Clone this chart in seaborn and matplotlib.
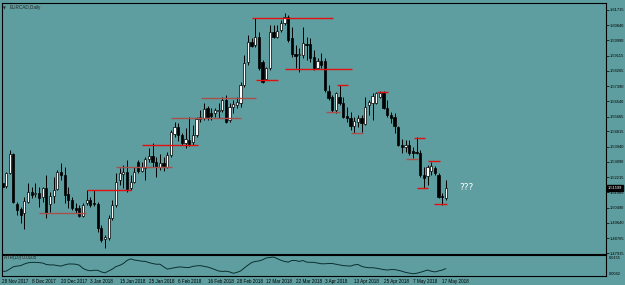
import numpy as np
import pandas as pd
import matplotlib
matplotlib.use('Agg')
from matplotlib import pyplot as plt
from matplotlib import transforms
import seaborn as sns

sns.set_style('white')
plt.rcParams['font.family'] = ['Liberation Sans', 'DejaVu Sans']

# EURCAD daily candles, 28 Nov 2017 .. 18 May 2018
opens = [1.5189, 1.5172, 1.5246, 1.5354, 1.5070, 1.5041, 1.5019, 1.5081, 1.5138, 1.5127,
         1.5132, 1.5110, 1.5161, 1.5070, 1.5115, 1.5155, 1.5252, 1.5234, 1.5127, 1.5093,
         1.5047, 1.5047, 1.5002, 1.5075, 1.5093, 1.5075, 1.5070, 1.4933, 1.4871, 1.4877,
         1.4990, 1.5064, 1.5206, 1.5240, 1.5252, 1.5161, 1.5195, 1.5308, 1.5257, 1.5274,
         1.5325, 1.5342, 1.5308, 1.5280, 1.5303, 1.5280, 1.5348, 1.5467, 1.5507, 1.5462,
         1.5416, 1.5433, 1.5422, 1.5462, 1.5553, 1.5558, 1.5615, 1.5587, 1.5587, 1.5598,
         1.5604, 1.5661, 1.5547, 1.5621, 1.5632, 1.5643, 1.5746, 1.5876, 1.5990, 1.5973,
         1.6018, 1.5876, 1.5780, 1.5842, 1.6047, 1.6018, 1.6058, 1.6098, 1.6132, 1.6013,
         1.5922, 1.5916, 1.5916, 1.5979, 1.5979, 1.5905, 1.5842, 1.5882, 1.5882, 1.5712,
         1.5678, 1.5604, 1.5678, 1.5643, 1.5570, 1.5558, 1.5513, 1.5536, 1.5558, 1.5524,
         1.5632, 1.5643, 1.5643, 1.5678, 1.5700, 1.5615, 1.5575, 1.5564, 1.5507, 1.5405,
         1.5394, 1.5405, 1.5371, 1.5365, 1.5359, 1.5234, 1.5229, 1.5257, 1.5274, 1.5234,
         1.5115, 1.5104]
highs = [1.5246, 1.5252, 1.5377, 1.5359, 1.5081, 1.5053, 1.5110, 1.5189, 1.5166, 1.5189,
         1.5166, 1.5166, 1.5234, 1.5138, 1.5223, 1.5263, 1.5303, 1.5280, 1.5166, 1.5110,
         1.5075, 1.5064, 1.5075, 1.5149, 1.5110, 1.5149, 1.5081, 1.4951, 1.4894, 1.5007,
         1.5093, 1.5246, 1.5274, 1.5291, 1.5320, 1.5234, 1.5280, 1.5320, 1.5308, 1.5337,
         1.5388, 1.5416, 1.5337, 1.5354, 1.5337, 1.5365, 1.5490, 1.5536, 1.5530, 1.5473,
         1.5501, 1.5564, 1.5519, 1.5564, 1.5604, 1.5643, 1.5626, 1.5615, 1.5615, 1.5643,
         1.5678, 1.5689, 1.5643, 1.5661, 1.5678, 1.5763, 1.5916, 1.6030, 1.6013, 1.6126,
         1.6047, 1.5888, 1.5848, 1.6087, 1.6087, 1.6087, 1.6115, 1.6155, 1.6143, 1.6075,
         1.5973, 1.5956, 1.6075, 1.6018, 1.6013, 1.5945, 1.5899, 1.5927, 1.5899, 1.5746,
         1.5689, 1.5706, 1.5746, 1.5678, 1.5621, 1.5592, 1.5564, 1.5575, 1.5575, 1.5678,
         1.5661, 1.5700, 1.5706, 1.5712, 1.5712, 1.5661, 1.5592, 1.5587, 1.5513, 1.5439,
         1.5433, 1.5433, 1.5394, 1.5450, 1.5377, 1.5280, 1.5291, 1.5308, 1.5286, 1.5246,
         1.5132, 1.5206]
lows = [1.5149, 1.5161, 1.5240, 1.5075, 1.5007, 1.4962, 1.4928, 1.5075, 1.5104, 1.5110,
        1.5053, 1.5081, 1.4990, 1.5024, 1.5075, 1.5149, 1.5206, 1.5075, 1.5047, 1.5036,
        1.5019, 1.4996, 1.4996, 1.5064, 1.5053, 1.5058, 1.4911, 1.4854, 1.4820, 1.4865,
        1.4979, 1.5053, 1.5178, 1.5161, 1.5138, 1.5149, 1.5189, 1.5246, 1.5252, 1.5206,
        1.5308, 1.5280, 1.5223, 1.5263, 1.5257, 1.5274, 1.5337, 1.5450, 1.5428, 1.5405,
        1.5388, 1.5399, 1.5405, 1.5450, 1.5536, 1.5547, 1.5547, 1.5547, 1.5564, 1.5558,
        1.5592, 1.5530, 1.5536, 1.5587, 1.5615, 1.5621, 1.5734, 1.5859, 1.5962, 1.5962,
        1.5831, 1.5757, 1.5774, 1.5831, 1.6013, 1.6013, 1.6047, 1.6087, 1.5990, 1.5905,
        1.5842, 1.5820, 1.5899, 1.5888, 1.5876, 1.5831, 1.5837, 1.5842, 1.5706, 1.5661,
        1.5592, 1.5587, 1.5632, 1.5558, 1.5536, 1.5490, 1.5473, 1.5507, 1.5479, 1.5519,
        1.5575, 1.5547, 1.5638, 1.5672, 1.5609, 1.5564, 1.5530, 1.5473, 1.5399, 1.5359,
        1.5365, 1.5348, 1.5331, 1.5354, 1.5223, 1.5161, 1.5178, 1.5234, 1.5234, 1.5104,
        1.5064, 1.5093]
closes = [1.5166, 1.5246, 1.5354, 1.5081, 1.5036, 1.5007, 1.5087, 1.5138, 1.5121, 1.5132,
          1.5104, 1.5161, 1.5019, 1.5115, 1.5149, 1.5252, 1.5234, 1.5121, 1.5093, 1.5047,
          1.5036, 1.5002, 1.5064, 1.5093, 1.5064, 1.5070, 1.4933, 1.4865, 1.4882, 1.4990,
          1.5064, 1.5195, 1.5246, 1.5252, 1.5155, 1.5195, 1.5252, 1.5257, 1.5280, 1.5325,
          1.5342, 1.5308, 1.5280, 1.5303, 1.5286, 1.5348, 1.5479, 1.5507, 1.5462, 1.5416,
          1.5439, 1.5405, 1.5462, 1.5553, 1.5564, 1.5609, 1.5564, 1.5570, 1.5604, 1.5604,
          1.5661, 1.5536, 1.5621, 1.5638, 1.5649, 1.5746, 1.5871, 1.5990, 1.5967, 1.6018,
          1.5842, 1.5763, 1.5842, 1.6047, 1.6018, 1.6052, 1.6098, 1.6132, 1.6001, 1.5922,
          1.5910, 1.5922, 1.5984, 1.5973, 1.5899, 1.5842, 1.5882, 1.5859, 1.5717, 1.5672,
          1.5604, 1.5700, 1.5643, 1.5564, 1.5558, 1.5513, 1.5541, 1.5558, 1.5530, 1.5621,
          1.5649, 1.5683, 1.5700, 1.5700, 1.5615, 1.5575, 1.5558, 1.5513, 1.5405, 1.5394,
          1.5405, 1.5359, 1.5359, 1.5359, 1.5234, 1.5217, 1.5280, 1.5286, 1.5246, 1.5110,
          1.5110, 1.5160]

# ATR(10) sub window
atr = [0.0093, 0.0094, 0.0103, 0.0113, 0.0116, 0.0118, 0.0125, 0.0130, 0.0132, 0.0132,
       0.0131, 0.0129, 0.0123, 0.0121, 0.0121, 0.0118, 0.0116, 0.0121, 0.0125, 0.0125,
       0.0124, 0.0120, 0.0106, 0.0099, 0.0096, 0.0098, 0.0098, 0.0091, 0.0087, 0.0095,
       0.0103, 0.0114, 0.0119, 0.0127, 0.0140, 0.0147, 0.0142, 0.0140, 0.0137, 0.0136,
       0.0131, 0.0127, 0.0124, 0.0124, 0.0113, 0.0103, 0.0106, 0.0109, 0.0112, 0.0112,
       0.0110, 0.0110, 0.0115, 0.0117, 0.0118, 0.0115, 0.0112, 0.0107, 0.0101, 0.0095,
       0.0093, 0.0094, 0.0091, 0.0085, 0.0089, 0.0095, 0.0108, 0.0120, 0.0131, 0.0136,
       0.0138, 0.0143, 0.0151, 0.0153, 0.0155, 0.0148, 0.0141, 0.0136, 0.0133, 0.0140,
       0.0140, 0.0136, 0.0140, 0.0133, 0.0132, 0.0132, 0.0129, 0.0126, 0.0126, 0.0127,
       0.0127, 0.0124, 0.0121, 0.0118, 0.0117, 0.0116, 0.0121, 0.0123, 0.0115, 0.0111,
       0.0109, 0.0109, 0.0107, 0.0104, 0.0101, 0.0099, 0.0101, 0.0101, 0.0098, 0.0094,
       0.0089, 0.0086, 0.0083, 0.0085, 0.0089, 0.0094, 0.0099, 0.0094, 0.0091, 0.0095,
       0.0099, 0.0105]

# horizontal support / resistance marks (bar index from, bar index to, price, kind)
lvl_from = [9.9, 23.0, 30.9, 38.0, 45.9, 54.1, 68.0, 69.1, 77.0, 88.2, 91.2, 95.0,
            102.1, 110.0, 112.2, 113.0, 116.0, 117.9]
lvl_to = [22.7, 35.0, 46.2, 53.3, 65.0, 69.1, 90.1, 75.1, 95.3, 92.0, 94.2, 98.3,
          105.1, 113.3, 115.2, 116.0, 119.3, 121.2]
lvl_price = [1.5019, 1.5149, 1.5280, 1.5405, 1.5558, 1.5672, 1.6126, 1.5774, 1.5837,
             1.5592, 1.5746, 1.5473, 1.5706, 1.5325, 1.5445, 1.5161, 1.5314, 1.5070]
lvl_kind = ['faded', 'strong', 'faded', 'strong', 'faded', 'faded', 'strong', 'strong',
            'strong', 'faded', 'strong', 'faded', 'strong', 'faded', 'strong', 'strong',
            'strong', 'strong']

price_ticks = [1.61715, 1.60840, 1.59990, 1.59115, 1.58265, 1.57390, 1.56540, 1.55665,
               1.54815, 1.53940, 1.53090, 1.52215, 1.51365, 1.50490, 1.49640, 1.48765,
               1.47915]
date_labels = ['28 Nov 2017', '8 Dec 2017', '20 Dec 2017', '3 Jan 2018', '15 Jan 2018',
               '25 Jan 2018', '6 Feb 2018', '16 Feb 2018', '28 Feb 2018', '12 Mar 2018',
               '22 Mar 2018', '3 Apr 2018', '13 Apr 2018', '25 Apr 2018', '7 May 2018',
               '17 May 2018']
last_price = 1.51599

df = pd.DataFrame(dict(open=opens, high=highs, low=lows, close=closes, atr=atr))
df['bar'] = np.arange(len(df))
up = df[df['close'] >= df['open']]
down = df[df['close'] < df['open']]

bg = '#5f9ea0'
fs = 3.3      # date / title text
fs_r = 2.9    # right-hand scale text
W, H = 625, 285

fig = plt.figure(figsize=(W / 100, H / 100), dpi=100)
fig.patch.set_facecolor(bg)
ax = fig.add_axes([2 / W, 1 - 254 / H, 604 / W, 251 / H])
ax2 = fig.add_axes([2 / W, 1 - 276 / H, 604 / W, 21 / H], sharex=ax)

for a in (ax, ax2):
    a.set_facecolor(bg)
    for s in a.spines.values():
        s.set_color('black')
        s.set_linewidth(0.8)

# candles
ax.vlines(df['bar'], df['low'], df['high'], color='black', lw=0.7, zorder=2)
ax.bar(up['bar'], up['close'] - up['open'], bottom=up['open'], width=0.62,
       color='white', edgecolor='black', linewidth=0.5, zorder=3)
ax.bar(down['bar'], down['close'] - down['open'], bottom=down['open'], width=0.62,
       color='black', edgecolor='black', linewidth=0.5, zorder=3)

lvl_colors = {'strong': '#e01010', 'faded': '#a8504c'}
for x0, x1, p, k in zip(lvl_from, lvl_to, lvl_price, lvl_kind):
    ax.hlines(p, x0, x1, color=lvl_colors[k], lw=1.0, zorder=4)

ax.text(len(df) + 2.6, 1.5161, '???', color='white', fontsize=6.5,
        family='DejaVu Sans', va='center', ha='left')

ax.set_xlim(-0.1, 164.7)
ax.set_ylim(1.4786, 1.6211)
ax.yaxis.tick_right()
ax.set_yticks(price_ticks)
ax.set_yticklabels(['%.5f' % v for v in price_ticks])
ax.tick_params(axis='y', direction='out', length=2, width=0.5, pad=1,
               labelsize=fs_r, colors='black')
ax.tick_params(axis='x', bottom=False, labelbottom=False)

trans = transforms.blended_transform_factory(ax.transAxes, ax.transData)
ax.text(1.0035, last_price, '%.5f' % last_price, transform=trans, color='white',
        fontsize=fs_r, va='center', ha='left', zorder=10,
        bbox=dict(boxstyle='square,pad=0.2', facecolor='black', edgecolor='black'))

# ATR sub window
sns.lineplot(data=df, x='bar', y='atr', ax=ax2, color='#0b2f2f', lw=0.7)
ax2.set_ylim(0.00734, 0.01636)
ax2.yaxis.tick_right()
ax2.set_yticks([0.0155, 0.0082])
ax2.set_yticklabels(['0.0155', '0.0082'])
ax2.tick_params(axis='y', direction='out', length=0, pad=2.2, labelsize=fs_r,
                colors='black')
ax2.set_xticks(np.arange(0, len(date_labels) * 8, 8))
ax2.set_xticklabels(date_labels, ha='left')
ax2.tick_params(axis='x', direction='out', length=2, width=0.5, pad=0.5,
                labelsize=fs, colors='black')
ax2.set_xlabel('')
ax2.set_ylabel('')

fig.text(4 / W, 1 - 258 / H, 'ATR(10) 0.0105', fontsize=fs, va='center', ha='left')
fig.text(3 / W, 1 - 8 / H, '\u25bc', fontsize=2.6, family='DejaVu Sans',
         va='center', ha='left')
fig.text(10 / W, 1 - 8 / H, 'EURCAD,Daily', fontsize=fs, va='center', ha='left')

fig.savefig('out.png', dpi=100, facecolor=bg)
